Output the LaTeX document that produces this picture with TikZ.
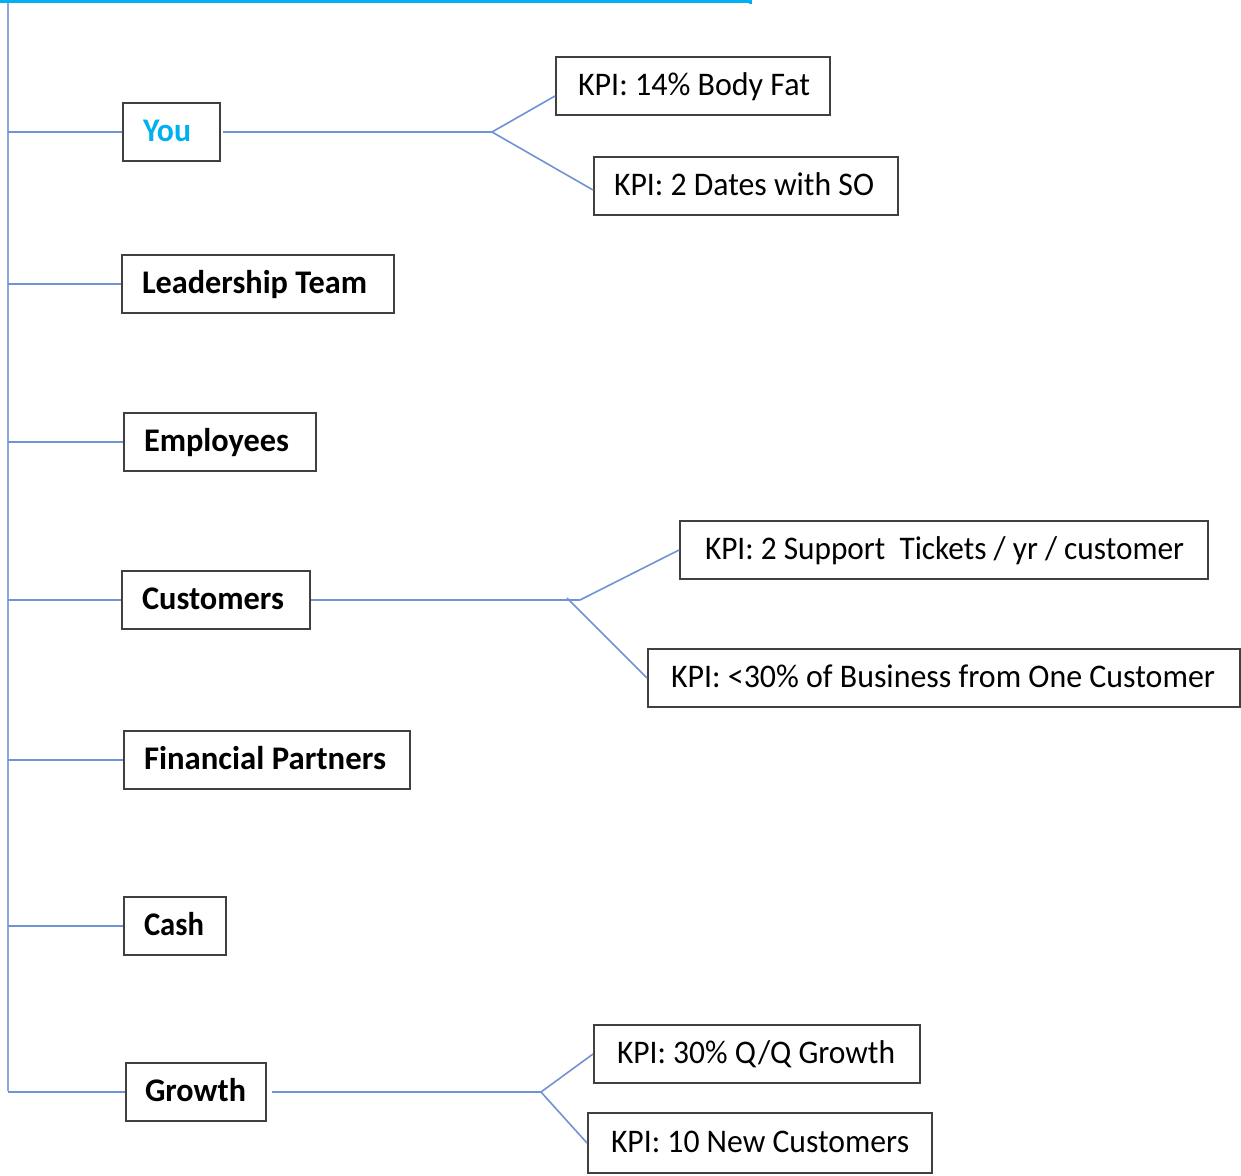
\documentclass[tikz,border=0pt]{standalone}
\usepackage{fontspec}
\setmainfont{Carlito}
\usepackage{graphicx}
\newlength\pxu
\setlength\pxu{0.5pt}
\definecolor{topblue}{HTML}{00B0F0}
\definecolor{conncol}{HTML}{6F93D4}
\definecolor{spinecol}{HTML}{8AA6DA}
\definecolor{boxline}{HTML}{404040}
\newcommand\bxt[4]{\makebox[#1\pxu][l]{\hspace*{#2\pxu}\resizebox{#3\pxu}{\height}{#4}}}
\tikzset{
  box/.style={draw=boxline, line width=1pt, inner sep=0pt, anchor=north west,
    minimum height=29pt, text height=11.5pt, text depth=2.5pt,
    font=\fontsize{16.5}{20}\selectfont},
  mainbox/.style={box, font=\fontsize{16.5}{20}\selectfont\bfseries},
  conn/.style={draw=conncol, line width=0.8pt},
}
\begin{document}
\begin{tikzpicture}[x=0.5pt, y=-0.5pt]
\useasboundingbox (0,0) rectangle (1241,1175);
% top line
\coordinate (tl) at (0,1.5);
\coordinate (tr) at (750,1.5);
\coordinate (trd) at (750,4);
\draw[topblue, line width=1.5pt] (tl) -- (tr) -- (trd);
% spine
\coordinate (spinetop) at (8,3);
\coordinate (spinebot) at (8,1091);
\draw[draw=spinecol, line width=0.8pt] (spinetop) -- (spinebot);

% main boxes
\node[mainbox] (you)  at (122,102) {\bxt{97}{20}{48}{\textcolor{topblue}{You}}};
\node[mainbox] (lead) at (121,254) {\bxt{272}{20}{225}{Leadership Team}};
\node[mainbox] (emp)  at (123,412) {\bxt{192}{20}{145}{Employees}};
\node[mainbox] (cust) at (121,570) {\bxt{188}{20}{142}{Customers}};
\node[mainbox] (fin)  at (123,730) {\bxt{286}{20}{242}{Financial Partners}};
\node[mainbox] (cash) at (123,896) {\bxt{102}{20}{60}{Cash}};
\node[mainbox] (grow) at (125,1062) {\bxt{140}{19}{101}{Growth}};

% KPI boxes
\node[box] (k1) at (555,56)   {\bxt{274}{22}{232}{KPI: 14\% Body Fat}};
\node[box] (k2) at (593,156)  {\bxt{304}{20}{260}{KPI: 2 Dates with SO}};
\node[box] (k3) at (679,520)  {\bxt{528}{25}{479}{KPI: 2 Support~ Tickets / yr / customer}};
\node[box] (k4) at (647,648)  {\bxt{592}{23}{544}{KPI: <30\% of Business from One Customer}};
\node[box] (k5) at (593,1024) {\bxt{326}{23}{278}{KPI: 30\% Q/Q Growth}};
\node[box, minimum height=30pt] (k6) at (587,1112) {\bxt{344}{23}{298}{KPI: 10 New Customers}};

% branches from spine
\foreach \n in {you,lead,emp,cust,fin,cash,grow}{
  \draw[conn] (spinetop |- \n.west) -- (\n.west);
}

% junctions
\coordinate (jxyou) at (492,0);
\coordinate (jxcust) at (580,0);
\coordinate (jxcust2) at (567,0);
\coordinate (jxgrow) at (541,0);
\coordinate (jyou) at (jxyou |- you.east);
\coordinate (jcust) at (jxcust |- cust.east);
\coordinate (jcust2) at ([yshift=1pt]jxcust2 |- cust.east);
\coordinate (jgrow) at (jxgrow |- grow.east);

\draw[conn] ([xshift=1pt]you.east) -- (jyou);
\draw[conn] (jyou) -- ([yshift=-5pt]k1.west);
\draw[conn] (jyou) -- ([yshift=-2pt]k2.west);

\draw[conn] (cust.east) -- (jcust);
\draw[conn] (jcust) -- (k3.west);
\draw[conn] (jcust2) -- (k4.west);

\draw[conn] ([xshift=2.5pt]grow.east) -- (jgrow);
\draw[conn] (jgrow) -- (k5.west);
\draw[conn] (jgrow) -- (k6.west);
\end{tikzpicture}
\end{document}
